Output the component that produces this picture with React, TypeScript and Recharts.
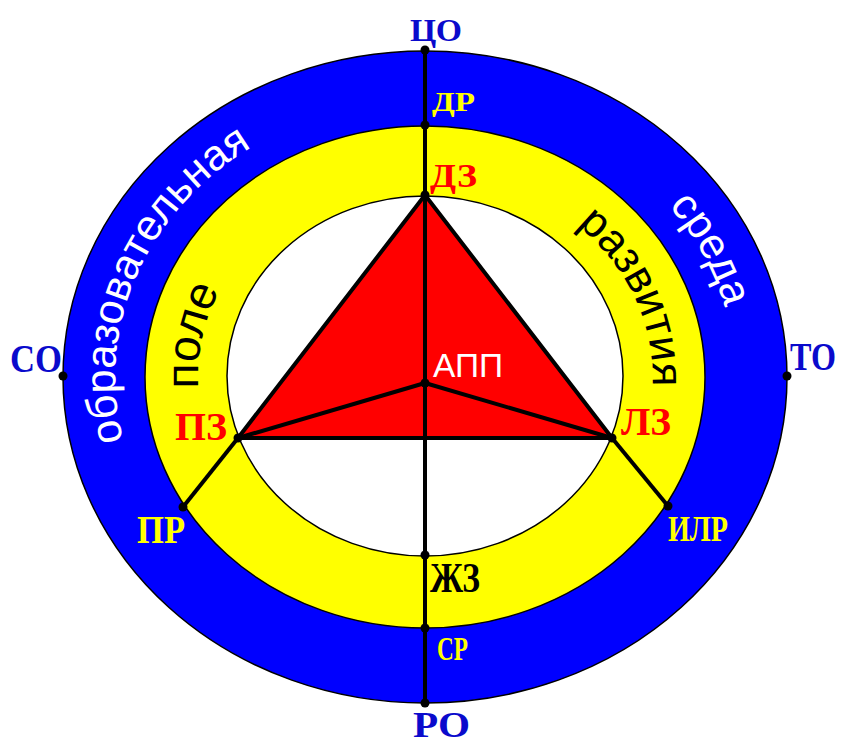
import { Area, ComposedChart, Line, Scatter, XAxis, YAxis } from "recharts";

const WIDTH = 842;
const HEIGHT = 740;
const X_DOMAIN = [-425, 417];
const Y_DOMAIN = [-363, 377];
const KX = WIDTH / (X_DOMAIN[1] - X_DOMAIN[0]);
const KY = HEIGHT / (Y_DOMAIN[1] - Y_DOMAIN[0]);

// rings: outer blue (среда), yellow (поле), inner white
const rings = [
  { name: "outer", x: 0, y: 0, rx: 362, ry: 326 },
  { name: "middle", x: 0, y: 0, rx: 280, ry: 251 },
  { name: "inner", x: 0, y: 1, rx: 198, ry: 180 },
];
const ringColors = ["#0000ff", "#ffff00", "#ffffff"];

// named points of the scheme
const nodes = [
  { name: "ЦО", x: 0, y: 327 },
  { name: "ДР", x: 0, y: 252 },
  { name: "ДЗ", x: 0, y: 182 },
  { name: "АПП", x: 0, y: -6 },
  { name: "ПЗ", x: -187, y: -61 },
  { name: "ЛЗ", x: 187, y: -61 },
  { name: "ПР", x: -242, y: -130 },
  { name: "ИЛР", x: 243, y: -129 },
  { name: "ЖЗ", x: 0, y: -178 },
  { name: "СР", x: 0, y: -251 },
  { name: "РО", x: 0, y: -326 },
  { name: "СО", x: -362, y: 1 },
  { name: "ТО", x: 362, y: 1 },
];

const triangle = ["ПЗ", "ДЗ", "ЛЗ"];
const edges = [
  ["ЦО", "РО"],
  ["ПЗ", "ЛЗ"],
  ["АПП", "ПЗ"],
  ["АПП", "ЛЗ"],
  ["ПЗ", "ПР"],
  ["ЛЗ", "ИЛР"],
];

const bandWords = ["образовательная", "среда", "поле", "развития"];

const node = (n: string) => nodes.find((p) => p.name === n)!;
const triangleData = triangle.map(node);
const wordData = bandWords.map((name) => ({ name, x: 0, y: 0 }));

const BLUE = "#0a0acc";
const YELLOW = "#ffff00";
const RED = "#ff0000";
const SERIF = "'Liberation Serif', 'Times New Roman', serif";
const SANS = "'Liberation Sans', Arial, sans-serif";

const wordStyle: Record<string, any> = {
  "образовательная": { band: 0, angle: 200, size: 43, color: "#ffffff" },
  "среда": { band: 0, angle: 336, size: 43, color: "#ffffff" },
  "поле": { band: 1, angle: 190, size: 46, color: "#000000" },
  "развития": { band: 1, angle: 339, size: 44, color: "#000000" },
};

const labelStyle: Record<string, any> = {
  "ЦО": { dx: -15, dy: -9, anchor: "start", size: 32, w: 52, color: BLUE },
  "ДР": { dx: 7, dy: -14, anchor: "start", size: 28, w: 43, color: YELLOW },
  "ДЗ": { dx: 5, dy: -8, anchor: "start", size: 34, w: 47, color: RED },
  "АПП": { dx: 8, dy: -6, anchor: "start", size: 33, w: 70, color: "#ffffff", sans: true },
  "ПЗ": { dx: -11, dy: 2, anchor: "end", size: 40, w: 52, color: RED },
  "ЛЗ": { dx: 9, dy: -3, anchor: "start", size: 39, w: 50, color: RED },
  "ПР": { dx: 2, dy: 36, anchor: "end", size: 40, w: 48, color: YELLOW },
  "ИЛР": { dx: 0, dy: 35, anchor: "start", size: 36, w: 60, color: YELLOW },
  "ЖЗ": { dx: 5, dy: 37, anchor: "start", size: 43, w: 50, color: "#000000" },
  "СР": { dx: 12, dy: 32, anchor: "start", size: 34, w: 31, color: YELLOW },
  "РО": { dx: -12, dy: 34, anchor: "start", size: 36, w: 57, color: BLUE },
  "СО": { dx: -1, dy: -4, anchor: "end", size: 40, w: 52, color: BLUE },
  "ТО": { dx: 3, dy: -6, anchor: "start", size: 40, w: 46, color: BLUE },
};

function RingShape(props: any) {
  const { cx, cy, payload } = props;
  const i = rings.findIndex((r) => r.name === payload.name);
  return (
    <ellipse
      cx={cx}
      cy={cy}
      rx={payload.rx * KX}
      ry={payload.ry * KY}
      fill={ringColors[i]}
      stroke="#000"
      strokeWidth={1.5}
    />
  );
}

function BandWord(props: any) {
  const { cx, cy, payload } = props;
  const st = wordStyle[payload.name];
  const outer = rings[st.band];
  const inner = rings[st.band + 1];
  const lift = st.size * 0.26;
  const rx = ((outer.rx + inner.rx) / 2) * KX - lift;
  const ry = ((outer.ry + inner.ry) / 2) * KY - lift;
  const a0 = ((st.angle - 85) * Math.PI) / 180;
  const a1 = ((st.angle + 85) * Math.PI) / 180;
  const d = `M ${cx + rx * Math.cos(a0)} ${cy + ry * Math.sin(a0)} A ${rx} ${ry} 0 0 1 ${cx + rx * Math.cos(a1)} ${cy + ry * Math.sin(a1)}`;
  const id = `band-word-${bandWords.indexOf(payload.name)}`;
  return (
    <g>
      <path id={id} d={d} fill="none" stroke="none" />
      <text fontFamily={SANS} fontSize={st.size} fill={st.color}>
        <textPath href={`#${id}`} startOffset="50%" textAnchor="middle">
          {payload.name}
        </textPath>
      </text>
    </g>
  );
}

function DotShape(props: any) {
  return <circle cx={props.cx} cy={props.cy} r={4.5} fill="#000" />;
}

function LabelShape(props: any) {
  const { cx, cy, payload } = props;
  const st = labelStyle[payload.name];
  return (
    <text
      x={cx + st.dx}
      y={cy + st.dy}
      textAnchor={st.anchor}
      fontFamily={st.sans ? SANS : SERIF}
      fontWeight={st.sans ? "normal" : "bold"}
      fontSize={st.size}
      fill={st.color}
      textLength={st.w}
      lengthAdjust="spacingAndGlyphs"
    >
      {payload.name}
    </text>
  );
}

export default function App() {
  return (
    <div style={{ position: "absolute", left: 0, top: 0, width: WIDTH, height: HEIGHT, background: "#fff" }}>
      <ComposedChart width={WIDTH} height={HEIGHT} margin={{ top: 0, right: 0, bottom: 0, left: 0 }}>
        <XAxis type="number" dataKey="x" domain={X_DOMAIN} allowDataOverflow hide />
        <YAxis type="number" dataKey="y" domain={Y_DOMAIN} allowDataOverflow hide />

        <Scatter data={rings} shape={RingShape} isAnimationActive={false} zIndex={10} />
        <Scatter data={wordData} shape={BandWord} isAnimationActive={false} zIndex={20} />

        <Area
          data={triangleData}
          dataKey="y"
          type="linear"
          baseValue={node("ПЗ").y}
          fill={RED}
          fillOpacity={1}
          stroke="#000"
          strokeWidth={4}
          isAnimationActive={false}
          zIndex={30}
        />

        {edges.map(([a, b], i) => (
          <Line
            key={i}
            data={[node(a), node(b)]}
            dataKey="y"
            type="linear"
            stroke="#000"
            strokeWidth={4}
            dot={false}
            activeDot={false}
            isAnimationActive={false}
            zIndex={40}
          />
        ))}

        <Scatter data={nodes} shape={DotShape} isAnimationActive={false} zIndex={50} />
        <Scatter data={nodes} shape={LabelShape} isAnimationActive={false} zIndex={60} />
      </ComposedChart>
    </div>
  );
}
